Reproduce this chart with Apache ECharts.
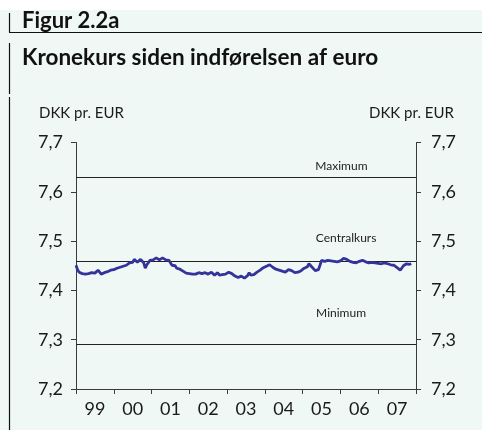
<!DOCTYPE html>
<html>
<head>
<meta charset="utf-8">
<script src="https://cdn.jsdelivr.net/npm/echarts@6/dist/echarts.min.js"></script>
<style>html,body{margin:0;padding:0;background:#fff;}#c{width:482px;height:430px;}</style>
</head>
<body>
<div id="c"></div>
<script>
// Year category labels (each band = one year)
var yearLabels = ['99', '00', '01', '02', '03', '04', '05', '06', '07'];
// Y tick settings
var yMin = 7.2, yMax = 7.7, yStep = 0.1;
// Reference levels (ERM II band)
var refNames = ['Maximum', 'Centralkurs', 'Minimum'];
var refValues = [7.62824, 7.46038, 7.29252];
// label positions for reference texts [month index, value]
var refLabelPos = [[84.3, 7.652], [85.8, 7.506], [84.2, 7.354]];
// Half-monthly DKK per EUR, Jan 1999 .. Nov 2007
var rate1999 = [7.451, 7.442, 7.437, 7.433, 7.434, 7.431, 7.433, 7.437, 7.434, 7.430, 7.436, 7.433, 7.435, 7.432, 7.441, 7.437, 7.433, 7.432, 7.436, 7.439, 7.438, 7.436, 7.441, 7.442];
var rate2000 = [7.442, 7.445, 7.445, 7.443, 7.447, 7.450, 7.449, 7.452, 7.451, 7.455, 7.456, 7.459, 7.457, 7.463, 7.461, 7.457, 7.459, 7.463, 7.462, 7.456, 7.445, 7.452, 7.451, 7.461];
var rate2001 = [7.465, 7.462, 7.464, 7.466, 7.463, 7.462, 7.461, 7.466, 7.464, 7.462, 7.463, 7.461, 7.457, 7.451, 7.448, 7.450, 7.445, 7.448, 7.443, 7.447, 7.439, 7.442, 7.435, 7.437];
var rate2002 = [7.434, 7.431, 7.433, 7.436, 7.433, 7.429, 7.436, 7.434, 7.434, 7.431, 7.436, 7.433, 7.433, 7.430, 7.437, 7.434, 7.431, 7.434, 7.436, 7.431, 7.434, 7.432, 7.430, 7.433];
var rate2003 = [7.433, 7.437, 7.438, 7.434, 7.432, 7.429, 7.429, 7.426, 7.427, 7.429, 7.427, 7.425, 7.427, 7.430, 7.436, 7.431, 7.429, 7.432, 7.434, 7.437, 7.438, 7.441, 7.442, 7.446];
var rate2004 = [7.446, 7.449, 7.451, 7.452, 7.449, 7.447, 7.446, 7.443, 7.443, 7.441, 7.442, 7.439, 7.440, 7.437, 7.439, 7.442, 7.441, 7.440, 7.439, 7.436, 7.435, 7.437, 7.437, 7.440];
var rate2005 = [7.441, 7.445, 7.445, 7.448, 7.454, 7.451, 7.447, 7.444, 7.440, 7.443, 7.442, 7.451, 7.461, 7.460, 7.459, 7.456, 7.461, 7.463, 7.460, 7.457, 7.459, 7.462, 7.458, 7.457];
var rate2006 = [7.460, 7.462, 7.465, 7.462, 7.463, 7.460, 7.459, 7.456, 7.457, 7.460, 7.456, 7.458, 7.459, 7.462, 7.461, 7.459, 7.458, 7.456, 7.456, 7.458, 7.457, 7.454, 7.456, 7.457];
var rate2007 = [7.455, 7.456, 7.454, 7.455, 7.456, 7.455, 7.454, 7.452, 7.452, 7.450, 7.451, 7.449, 7.446, 7.443, 7.441, 7.444, 7.450, 7.453, 7.454, 7.452, 7.453, 7.454];

var rates = [].concat(rate1999, rate2000, rate2001, rate2002, rate2003, rate2004, rate2005, rate2006, rate2007);
var seriesData = rates.map(function (v, i) { return [i / 2, v]; });

var FONT = 'Lato';
var chart = echarts.init(document.getElementById('c'), null, {renderer: 'canvas'});
var fmt = function (v) { return v.toFixed(1).replace('.', ','); };
var axisCol = '#3a3a3a';
var yAxisBase = {
  type: 'value', min: yMin, max: yMax, interval: yStep,
  axisLine: {show: true, lineStyle: {color: axisCol, width: 1}},
  axisTick: {show: true, inside: false, length: 5, lineStyle: {color: axisCol}},
  splitLine: {show: false},
  axisLabel: {formatter: fmt, fontFamily: FONT, fontSize: 18, color: '#1a1a1a'}
};
var option = {
  backgroundColor: '#f0f8f5',
  animation: false,
  grid: {left: 76, right: 66, top: 142.5, bottom: 41},
  xAxis: [
    {type: 'value', min: 0, max: 108, show: false, position: 'bottom'},
    {type: 'category', data: yearLabels, boundaryGap: true, position: 'bottom',
     axisLine: {show: true, lineStyle: {color: axisCol}},
     axisTick: {show: true, inside: false, length: 5, alignWithLabel: false, lineStyle: {color: axisCol}},
     axisLabel: {fontFamily: FONT, fontSize: 18, color: '#1a1a1a', margin: 11},
     splitLine: {show: false}}
  ],
  yAxis: [
    Object.assign({}, yAxisBase, {position: 'left', axisLabel: Object.assign({}, yAxisBase.axisLabel, {margin: 13})}),
    Object.assign({}, yAxisBase, {position: 'right', axisLabel: Object.assign({}, yAxisBase.axisLabel, {margin: 15})})
  ],
  series: [{
    type: 'line', xAxisIndex: 0, yAxisIndex: 0, data: seriesData,
    showSymbol: false, symbol: 'none',
    lineStyle: {color: '#33339a', width: 2.8},
    z: 5,
    markLine: {
      silent: true, symbol: 'none', animation: false,
      label: {show: false},
      lineStyle: {color: '#222', width: 1, type: 'solid'},
      data: refValues.map(function (v) { return {yAxis: v}; })
    }
  }],
  graphic: [
    {type: 'rect', shape: {x: 0, y: 0, width: 482, height: 10}, style: {fill: '#ffffff'}},
    {type: 'line', shape: {x1: 9.5, y1: 13, x2: 9.5, y2: 32}, style: {stroke: '#111', lineWidth: 1.2}},
    {type: 'line', shape: {x1: 9.5, y1: 43, x2: 9.5, y2: 94}, style: {stroke: '#111', lineWidth: 1.2}},
    {type: 'line', shape: {x1: 9.5, y1: 97, x2: 9.5, y2: 430}, style: {stroke: '#111', lineWidth: 1.2}},
    {type: 'line', shape: {x1: 9, y1: 32.5, x2: 482, y2: 32.5}, style: {stroke: '#111', lineWidth: 1.2}},
    {type: 'text', left: 22, top: 10, style: {text: 'Figur 2.2a', font: 'bold 22px Lato', fill: '#111'}},
    {type: 'text', left: 22, top: 46, style: {text: 'Kronekurs siden indførelsen af euro', font: 'bold 22.5px Lato', fill: '#111'}},
    {type: 'text', left: 39, top: 106, style: {text: 'DKK pr. EUR', font: '15px Lato', fill: '#1a1a1a'}},
    {type: 'text', left: 369, top: 106, style: {text: 'DKK pr. EUR', font: '15px Lato', fill: '#1a1a1a'}}
  ]
};
chart.setOption(option);
var extra = refNames.map(function (n, i) {
  var p = chart.convertToPixel({xAxisIndex: 0, yAxisIndex: 0}, refLabelPos[i]);
  return {type: 'text', x: p[0], y: p[1], style: {text: n, font: '12px Lato', fill: '#222', align: 'center', verticalAlign: 'middle'}};
});
chart.setOption({graphic: option.graphic.concat(extra)});
</script>
</body>
</html>
